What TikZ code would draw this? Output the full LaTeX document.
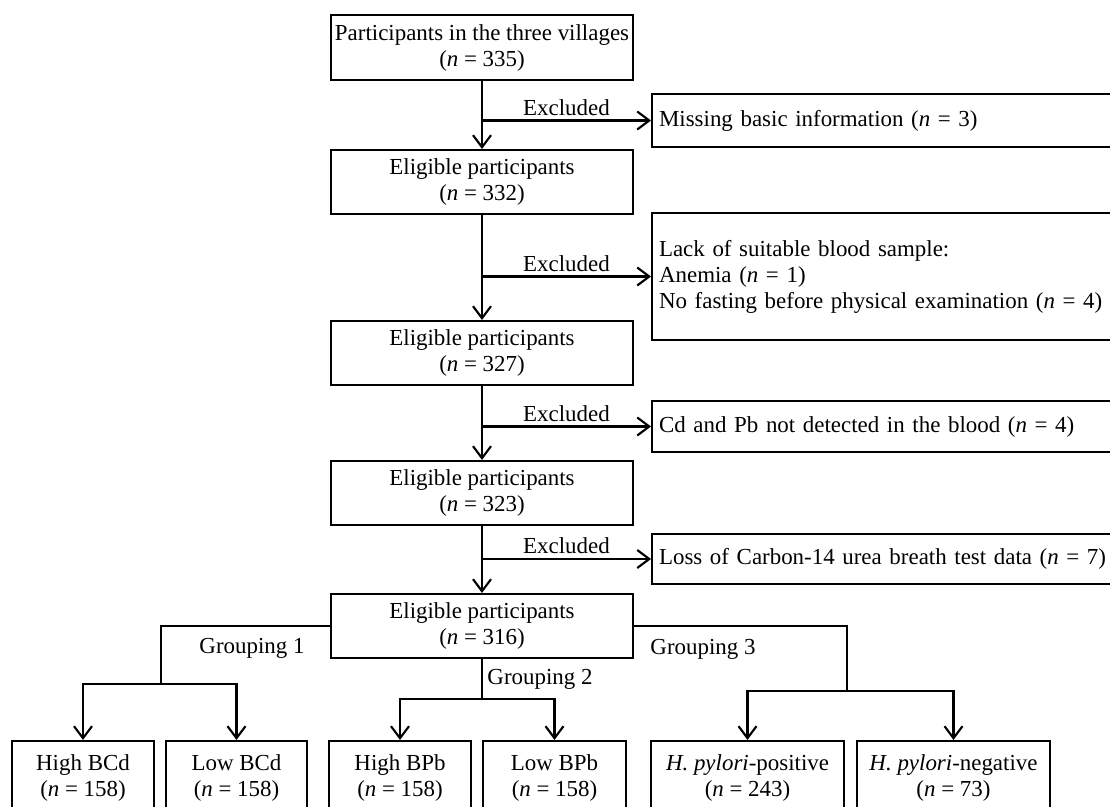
\documentclass[tikz,border=0pt]{standalone}
\usepackage{fontspec}
\setmainfont{Liberation Serif}
\usetikzlibrary{arrows.meta}
\tikzset{box/.style = {draw, line width=1.5pt, align=center, inner sep=0}}
\tikzset{main/.style = {box, minimum width=7.55cm, minimum height=1.6cm}}
\tikzset{side/.style = {draw, line width=1.5pt, anchor=west, align=left,
                        inner xsep=0.175cm, inner ysep=0,
                        text width=11.4cm, minimum width=11.75cm}}
\tikzset{group/.style = {box, minimum height=1.85cm}}
\tikzset{conn/.style = {line width=1.5pt}}
\tikzset{arr/.style = {conn, -{Straight Barb[length=0.3cm, width=0.45cm]}}}

\begin{document}
\begin{tikzpicture}[x=0.025cm, y=-0.025cm, font=\fontsize{16.3}{18.5}\selectfont]
    \useasboundingbox (0,0) rectangle (1110,807);

    % main column
    \node [main, minimum height=1.625cm] (b0) at (482,47.5) {Participants in the three villages\\(\textit{n} = 335)};
    \node [main] (b1) at (482,182) {Eligible participants\\(\textit{n} = 332)};
    \node [main] (b2) at (482,353) {Eligible participants\\(\textit{n} = 327)};
    \node [main] (b3) at (482,493) {Eligible participants\\(\textit{n} = 323)};
    \node [main] (b4) at (482,626) {Eligible participants\\(\textit{n} = 316)};

    % exclusions
    \node [side, minimum height=1.325cm] (x1) at (651,120.5) {Missing basic information (\textit{n} = 3)};
    \node [side, minimum height=3.175cm] (x2) at (651,276.5) {Lack of suitable blood sample:\\Anemia (\textit{n} = 1)\\No fasting before physical examination (\textit{n} = 4)};
    \node [side, minimum height=1.275cm] (x3) at (651,426.5) {Cd and Pb not detected in the blood (\textit{n} = 4)};
    \node [side, minimum height=1.25cm] (x4) at (651,559) {Loss of Carbon-14 urea breath test data (\textit{n} = 7)};

    \draw [arr] (b0) -- (b1);
    \draw [arr] (b1) -- (b2);
    \draw [arr] (b2) -- (b3);
    \draw [arr] (b3) -- (b4);

    \draw [arr] (b0 |- x1) -- (x1.west) node [midway, above, inner sep=3pt] (e1) {Excluded};
    \draw [arr] (b1 |- x2) -- (x2.west) node [midway, above, inner sep=3pt] (e2) {Excluded};
    \draw [arr] (b2 |- x3) -- (x3.west) node [midway, above, inner sep=3pt] (e3) {Excluded};
    \draw [arr] (b3 |- x4) -- (x4.west) node [midway, above, inner sep=3pt] (e4) {Excluded};

    % groups
    \node [group, minimum width=3.55cm] (c1) at (83,778) {High BCd\\(\textit{n} = 158)};
    \node [group, minimum width=3.525cm] (c2) at (236.5,778) {Low BCd\\(\textit{n} = 158)};
    \node [group, minimum width=3.55cm] (c3) at (400,778) {High BPb\\(\textit{n} = 158)};
    \node [group, minimum width=3.575cm] (c4) at (554.5,778) {Low BPb\\(\textit{n} = 158)};
    \node [group, minimum width=4.825cm] (c5) at (747.5,778) {\textit{H. pylori}-positive\\(\textit{n} = 243)};
    \node [group, minimum width=4.825cm] (c6) at (953.5,778) {\textit{H. pylori}-negative\\(\textit{n} = 73)};

    \coordinate (g1) at (161,684);
    \coordinate (g2) at (482,699);
    \coordinate (g3) at (847,691);

    \draw [conn] (b4.west) -| (g1);
    \draw [arr] (g1) -| (c1.north);
    \draw [arr] (g1) -| (c2.north);
    \node (l1) at (252,648) {Grouping 1};

    \draw [conn] (b4.south) -- (g2);
    \draw [arr] (g2) -| (c3.north);
    \draw [arr] (g2) -| (c4.north);
    \node (l2) at (540,679) {Grouping 2};

    \draw [conn] (b4.east) -| (g3);
    \draw [arr] (g3) -| (c5.north);
    \draw [arr] (g3) -| (c6.north);
    \node (l3) at (703,649) {Grouping 3};
\end{tikzpicture}
\end{document}
